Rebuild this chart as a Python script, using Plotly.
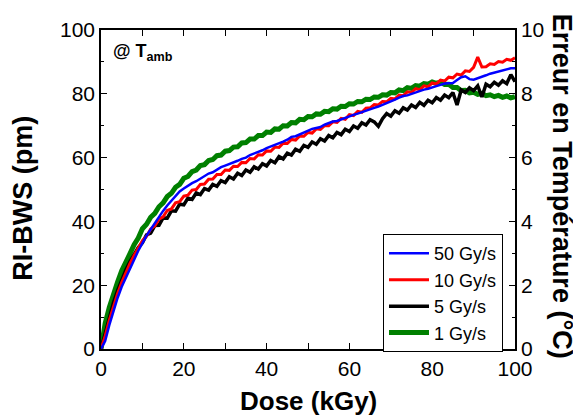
import plotly.graph_objects as go

dose = list(range(0, 101))

rate_labels = ["50 Gy/s", "10 Gy/s", "5 Gy/s", "1 Gy/s"]

bws_50 = [0, 2.5, 7.5, 12, 16, 19.5, 22.5, 25.3, 28, 30.8, 33.3, 35.5, 37.5, 39.5, 41.3, 43.3, 45, 46.5, 47.8, 49.4,
          50.3, 51.2, 52, 52.6, 53.4, 54.3, 55, 55.4, 56.2, 57, 57.5, 58, 58.3, 59, 59.6, 60, 60.8, 61.3, 61.6, 62.3,
          63, 63.5, 64, 64.3, 65, 65.6, 66.5, 66.7, 67.3, 68, 68.5, 69, 69.3, 69.6, 70.3, 70.8, 71.3, 71.5, 72, 72.6,
          73, 73.4, 73.8, 74.3, 74.7, 75.2, 75.6, 76, 76.5, 77, 77.6, 78.2, 78.8, 79.3, 79.5, 80, 80.5, 81, 81.3, 81.6,
          81.9, 82.4, 82.8, 83.2, 83.3, 83.4, 84.3, 85.2, 85.5, 84.6, 84.4, 84.8, 85.3, 85.8, 86.3, 86.6, 86.9, 87.3, 87.6, 88,
          88]

bws_10 = [0, 4, 9, 13.5, 17.3, 20.8, 24, 26.8, 29.3, 31.6, 34, 35.3, 37.6, 38.6, 40.7, 41.4, 43.4, 43.9, 45.8, 46.2,
          47.9, 48.2, 49.8, 50, 51.6, 51.7, 53.2, 53.3, 54.7, 54.7, 56.1, 56, 57.3, 57.2, 58.5, 58.4, 59.7, 59.6, 60.9, 60.8,
          62.1, 62, 63.3, 63.2, 64.5, 64.4, 65.7, 65.5, 66.8, 66.7, 67.9, 67.7, 69, 68.8, 70, 70, 71.2, 71, 72.3, 72,
          73.5, 73.2, 74.5, 74.2, 75.5, 75.6, 76.6, 76.5, 77.6, 77.5, 78.6, 78.4, 79.6, 79.4, 80.6, 80.4, 81.6, 81.3, 82.5, 82.2,
          83.4, 83.1, 84.3, 84, 85.2, 85, 86.2, 85.9, 87.2, 87, 88.3, 91.5, 88.4, 88.5, 89.4, 89.2, 90.1, 89.9, 90.8, 90.5,
          91.3]

bws_5 = [0, 5, 10, 14.5, 18.3, 21.8, 24.8, 27.4, 29.7, 31.8, 33.3, 35.8, 36.3, 38.7, 38.8, 41.1, 41, 43.3, 43.2, 45.4,
         45.2, 47.3, 46.9, 48.9, 48.4, 50.3, 49.8, 51.6, 51, 52.8, 52.2, 54, 53.3, 55.1, 54.4, 56.1, 55.4, 57.1, 56.4, 58.1,
         57.4, 59.1, 58.4, 60.3, 59.6, 61.4, 60.8, 62.6, 62, 63.8, 63.2, 64.9, 64.2, 65.9, 65.2, 66.9, 66.2, 67.9, 67.2, 68.9,
         68.2, 69.9, 69.2, 70.9, 70.2, 71.9, 71.2, 69.8, 72.2, 73.8, 73, 74.7, 73.9, 75.6, 74.9, 76.5, 75.7, 77.3, 76.4, 78,
         77.2, 78.8, 78, 79.6, 78.8, 80.4, 76.5, 81.2, 80.4, 81.9, 81, 82.5, 79, 83, 82.2, 83.6, 82.7, 84.1, 83.2, 86,
         83.8]

bws_1 = [0, 8, 13, 17.5, 21, 24.5, 27.6, 29.9, 32.7, 34.8, 37.7, 39.1, 41.3, 42.5, 44.6, 45.8, 47.8, 48.8, 50.7, 51.6,
         53.5, 54.1, 55.6, 56.1, 57.5, 57.8, 59.1, 59.4, 60.6, 60.8, 62, 62.2, 63.3, 63.4, 64.6, 64.7, 65.8, 65.8, 66.9, 66.9,
         68, 67.9, 69, 68.9, 70, 69.9, 71, 70.9, 72, 71.9, 72.9, 72.8, 73.7, 73.6, 74.5, 74.4, 75.3, 75.2, 76.1, 76,
         76.9, 76.8, 77.6, 77.5, 78.3, 78.2, 79, 78.9, 79.7, 79.6, 80.4, 80.3, 81.2, 81, 81.9, 81.7, 82.6, 82.4, 83.2, 83,
         83.7, 83.3, 83.7, 82.9, 83, 82, 82, 81, 81.1, 80.3, 80.5, 79.8, 80.1, 79.4, 79.7, 79.1, 79.5, 78.9, 79.3, 78.7,
         79.1]

x_ticks = [0, 20, 40, 60, 80, 100]
y_ticks = [0, 20, 40, 60, 80, 100]
y2_ticks = [0, 2, 4, 6, 8, 10]

FONT = "Arial, Liberation Sans, sans-serif"

fig = go.Figure()
series = [
    (bws_1, rate_labels[3], "#008000", 5, 4),
    (bws_5, rate_labels[2], "#000000", 3.5, 3),
    (bws_10, rate_labels[1], "#ff0000", 3, 2),
    (bws_50, rate_labels[0], "#0000ff", 2.5, 1),
]
for vals, name, col, w, rank in series:
    fig.add_trace(go.Scatter(x=dose, y=vals, mode="lines", name=name,
                             line=dict(color=col, width=w), legendrank=rank))
# invisible trace to activate the right axis
fig.add_trace(go.Scatter(x=[0], y=[0], yaxis="y2", mode="markers",
                         marker=dict(opacity=0), showlegend=False, hoverinfo="skip"))

axis_common = dict(showline=True, linecolor="black", linewidth=1.5, showgrid=False, zeroline=False,
                   ticks="inside", ticklen=6, tickwidth=1.2, tickcolor="black",
                   tickfont=dict(family=FONT, size=21, color="black"))

fig.update_layout(
    width=573, height=408,
    margin=dict(l=93, r=66, t=22, b=67, autoexpand=False),
    paper_bgcolor="white", plot_bgcolor="white",
    showlegend=True,
    xaxis=dict(range=[0, 100], tickvals=x_ticks, mirror="allticks",
               minor=dict(dtick=10, ticks="inside", ticklen=3, tickcolor="black"), **axis_common),
    yaxis=dict(range=[0, 100], tickvals=y_ticks,
               minor=dict(dtick=10, ticks="inside", ticklen=3, tickcolor="black"), **axis_common),
    yaxis2=dict(range=[0, 10], tickvals=y2_ticks, overlaying="y", side="right",
                minor=dict(dtick=1, ticks="inside", ticklen=3, tickcolor="black"), **axis_common),
    legend=dict(x=0.971, y=0.36, xanchor="right", yanchor="top", itemwidth=40,
                bgcolor="white", bordercolor="black", borderwidth=1,
                font=dict(family=FONT, size=18, color="black"), tracegroupgap=0),
    annotations=[
        dict(text="<b>Dose (kGy)</b>", xref="paper", yref="paper", x=0.5, y=-0.162,
             xanchor="center", yanchor="middle", showarrow=False,
             font=dict(family=FONT, size=26, color="black")),
        dict(text="<b>RI-BWS (pm)</b>", xref="paper", yref="paper", x=-0.187, y=0.473,
             xanchor="center", yanchor="middle", textangle=-90, showarrow=False,
             font=dict(family=FONT, size=27, color="black")),
        dict(text="<b>Erreur en Température (°C)</b>", xref="paper", yref="paper", x=1.114, y=0.511,
             xanchor="center", yanchor="middle", textangle=90, showarrow=False,
             font=dict(family=FONT, size=27, color="black")),
        dict(text="<b>@ T<sub>amb</sub></b>", xref="paper", yref="paper", x=0.025, y=0.93,
             xanchor="left", yanchor="middle", showarrow=False,
             font=dict(family=FONT, size=18, color="black")),
    ],
)

fig.write_html("out.html")
